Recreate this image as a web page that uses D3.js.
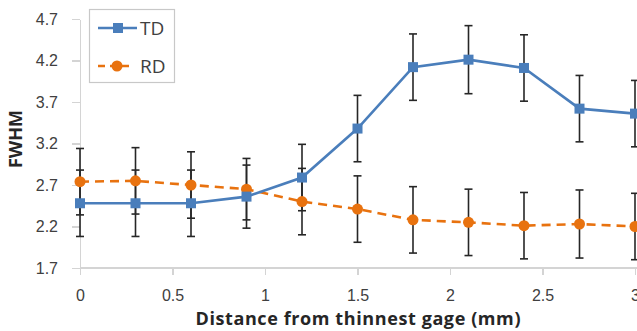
<!DOCTYPE html>
<html>
<head>
<meta charset="utf-8">
<script src="https://cdn.jsdelivr.net/npm/d3@7"></script>
<style>
  body { margin: 0; background: #fff; }
  svg { display: block; font-family: "Open Sans", sans-serif; }
</style>
</head>
<body>
<svg id="chart" width="637" height="331"></svg>
<script>
(function (d3) {

  // distance from thinnest gage (mm)
  var distances = [0, 0.3, 0.6, 0.9, 1.2, 1.5, 1.8, 2.1, 2.4, 2.7, 3.0];

  var tdValues = [2.48, 2.48, 2.48, 2.56, 2.79, 3.38, 4.12, 4.21, 4.11, 3.62, 3.56];
  var tdErrors = [0.40, 0.40, 0.40, 0.38, 0.40, 0.40, 0.40, 0.41, 0.40, 0.40, 0.40];

  var rdValues = [2.74, 2.75, 2.70, 2.65, 2.50, 2.41, 2.28, 2.25, 2.21, 2.23, 2.20];
  var rdErrors = [0.40, 0.40, 0.40, 0.37, 0.40, 0.40, 0.40, 0.40, 0.40, 0.41, 0.40];

  var xTicks = [0, 0.5, 1, 1.5, 2, 2.5, 3];
  var yTicks = [1.7, 2.2, 2.7, 3.2, 3.7, 4.2, 4.7];

  var TD_COLOR = '#4a7ebb';
  var RD_COLOR = '#e8720f';
  var ERR_COLOR = '#262626';
  var AXIS_COLOR = '#d4d4d4';

  var svg = d3.select('#chart');

  var x = d3.scaleLinear().domain([0, 3]).range([80, 635]);
  var y = d3.scaleLinear().domain([1.7, 4.7]).range([268, 19]);

  // axes
  var xAxis = svg.append('g')
      .attr('transform', 'translate(0,' + y(1.7) + ')')
      .call(d3.axisBottom(x).tickValues(xTicks).tickSize(7).tickSizeOuter(0)
        .tickFormat(function (d) { return String(d); }));

  xAxis.select('.domain').attr('stroke', AXIS_COLOR).attr('stroke-width', 1.5)
      .attr('d', 'M' + x(0) + ',0H637');
  xAxis.selectAll('.tick line').attr('stroke', AXIS_COLOR).attr('stroke-width', 1.5);
  xAxis.selectAll('.tick text')
      .attr('y', 22)
      .attr('fill', '#404040')
      .style('font-size', '16px');

  var yAxis = svg.append('g')
      .attr('transform', 'translate(' + x(0) + ',0)')
      .call(d3.axisLeft(y).tickValues(yTicks).tickSize(8).tickSizeOuter(0)
        .tickFormat(d3.format('.1f')));

  yAxis.select('.domain').attr('stroke', AXIS_COLOR).attr('stroke-width', 1.5);
  yAxis.selectAll('.tick line').attr('stroke', AXIS_COLOR).attr('stroke-width', 1.5);
  yAxis.selectAll('.tick text')
      .attr('x', -22)
      .attr('fill', '#404040')
      .style('font-size', '16px');

  svg.selectAll('.domain, .tick line').attr('shape-rendering', 'crispEdges');

  // titles
  svg.append('text')
      .attr('x', 358)
      .attr('y', 325)
      .attr('text-anchor', 'middle')
      .attr('fill', '#262626')
      .style('font-size', '18px')
      .style('font-weight', 'bold')
      .attr('textLength', 325)
      .attr('lengthAdjust', 'spacing')
      .text('Distance from thinnest gage (mm)');

  svg.append('text')
      .attr('transform', 'translate(22,139) rotate(-90)')
      .attr('text-anchor', 'middle')
      .attr('fill', '#262626')
      .style('font-size', '18px')
      .style('font-weight', 'bold')
      .text('FWHM');

  function seriesData(values, errors) {
    return distances.map(function (d, i) {
      return { x: d, v: values[i], e: errors[i] };
    });
  }

  var td = seriesData(tdValues, tdErrors);
  var rd = seriesData(rdValues, rdErrors);

  var line = d3.line()
      .x(function (d) { return x(d.x); })
      .y(function (d) { return y(d.v); });

  // error bars
  function drawErrors(data) {
    var g = svg.append('g')
        .attr('stroke', ERR_COLOR)
        .attr('stroke-width', 1.6);
    var bars = g.selectAll('g').data(data).enter().append('g');
    bars.append('line')
        .attr('x1', function (d) { return x(d.x); })
        .attr('x2', function (d) { return x(d.x); })
        .attr('y1', function (d) { return y(d.v + d.e); })
        .attr('y2', function (d) { return y(d.v - d.e); });
    [1, -1].forEach(function (s) {
      bars.append('line')
          .attr('x1', function (d) { return x(d.x) - 4; })
          .attr('x2', function (d) { return x(d.x) + 4; })
          .attr('y1', function (d) { return y(d.v + s * d.e); })
          .attr('y2', function (d) { return y(d.v + s * d.e); });
    });
  }

  drawErrors(rd);
  drawErrors(td);

  // RD series
  svg.append('path')
      .datum(rd)
      .attr('fill', 'none')
      .attr('stroke', RD_COLOR)
      .attr('stroke-width', 2.6)
      .attr('stroke-dasharray', '9,6')
      .attr('d', line);

  svg.append('g').selectAll('circle').data(rd).enter().append('circle')
      .attr('cx', function (d) { return x(d.x); })
      .attr('cy', function (d) { return y(d.v); })
      .attr('r', 5.5)
      .attr('fill', RD_COLOR);

  // TD series
  svg.append('path')
      .datum(td)
      .attr('fill', 'none')
      .attr('stroke', TD_COLOR)
      .attr('stroke-width', 2.6)
      .attr('d', line);

  svg.append('g').selectAll('rect').data(td).enter().append('rect')
      .attr('x', function (d) { return x(d.x) - 5; })
      .attr('y', function (d) { return y(d.v) - 5; })
      .attr('width', 10)
      .attr('height', 10)
      .attr('fill', TD_COLOR);

  // legend
  var legend = svg.append('g');
  legend.append('rect')
      .attr('x', 89.5).attr('y', 9.5)
      .attr('width', 85).attr('height', 73)
      .attr('fill', '#fff')
      .attr('stroke', '#c8c8c8')
      .attr('stroke-width', 1.2);

  legend.append('line')
      .attr('x1', 98).attr('x2', 137).attr('y1', 28).attr('y2', 28)
      .attr('stroke', TD_COLOR).attr('stroke-width', 2.6);
  legend.append('rect')
      .attr('x', 113).attr('y', 23).attr('width', 10).attr('height', 10)
      .attr('fill', TD_COLOR);
  legend.append('text')
      .attr('x', 140).attr('y', 35)
      .attr('fill', '#404040')
      .style('font-size', '19px')
      .text('TD');

  legend.append('line')
      .attr('x1', 98).attr('x2', 130).attr('y1', 66).attr('y2', 66)
      .attr('stroke', RD_COLOR).attr('stroke-width', 2.6)
      .attr('stroke-dasharray', '7,5');
  legend.append('circle')
      .attr('cx', 117).attr('cy', 66).attr('r', 5.5)
      .attr('fill', RD_COLOR);
  legend.append('text')
      .attr('x', 140).attr('y', 73)
      .attr('fill', '#404040')
      .style('font-size', '19px')
      .text('RD');

})(d3);
</script>
</body>
</html>
